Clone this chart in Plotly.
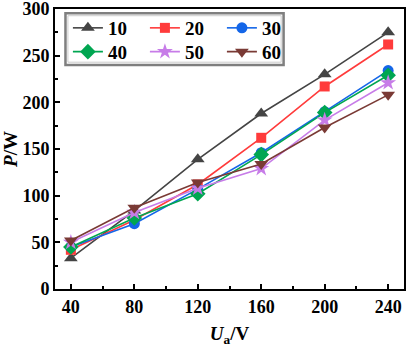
import plotly.graph_objects as go

ua = [40, 80, 120, 160, 200, 240]
names = ["10", "20", "30", "40", "50", "60"]
p10 = [33, 84, 139, 188, 230, 275]
p20 = [42, 74, 112, 162, 217, 262]
p30 = [45, 70, 107, 146, 190, 234]
p40 = [45, 76, 102, 144, 189, 229]
p50 = [50, 82, 108, 129, 181, 221]
p60 = [52, 87, 114, 134, 173, 208]
series = [p10, p20, p30, p40, p50, p60]
colors = ["#444444", "#ff3b3b", "#1466e8", "#00a651", "#c77ce8", "#7a3a35"]
symbols = ["triangle-up", "square", "circle", "diamond", "star", "triangle-down"]
sizes = [12, 10, 11, 12, 12, 12]

FONT = "Liberation Serif"
fig = go.Figure()
for i, (nm, ys) in enumerate(zip(names, series)):
    fig.add_trace(go.Scatter(
        x=ua, y=ys, name=nm, mode="lines+markers",
        line=dict(color=colors[i], width=1.6),
        marker=dict(symbol=symbols[i], size=sizes[i], color=colors[i]),
        legend="legend" if i < 3 else "legend2",
    ))

axis_common = dict(
    showline=True, linecolor="black", linewidth=2, mirror=True,
    ticks="inside", ticklen=5, tickwidth=1.5, tickcolor="black",
    showgrid=False, zeroline=False, ticklabeloverflow="allow", automargin=False,
    tickfont=dict(family=FONT, size=18, color="black", weight="bold"),
)
fig.update_xaxes(range=[30, 250], tickvals=[40, 80, 120, 160, 200, 240],
                 minor=dict(dtick=20, tick0=0, ticks="inside", ticklen=3, tickcolor="black"),
                 title=dict(text="<b><i>U</i><sub>a</sub>/V</b>",
                            font=dict(family=FONT, size=19, color="black"), standoff=19),
                 **axis_common)
fig.update_yaxes(range=[0, 300], tickvals=[0, 50, 100, 150, 200, 250, 300],
                 minor=dict(dtick=25, tick0=0, ticks="inside", ticklen=3, tickcolor="black"),
                 title=dict(text="<b><i>P</i>/W</b>",
                            font=dict(family=FONT, size=19, color="black"), standoff=6),
                 **axis_common)

leg = dict(orientation="h", xanchor="left", yanchor="top", bgcolor="rgba(0,0,0,0)",
           borderwidth=0, font=dict(family=FONT, size=19, color="black", weight="bold"),
           entrywidth=32, itemwidth=30, tracegroupgap=0)
fig.update_layout(
    width=408, height=347, margin=dict(l=55, r=4, t=9, b=58),
    paper_bgcolor="white", plot_bgcolor="white",
    legend=dict(x=0.037, y=1.0, **leg),
    legend2=dict(x=0.037, y=0.915, **leg),
    shapes=[
        dict(type="rect", xref="paper", yref="paper", x0=0.03, x1=0.655, y0=0.80, y1=0.985,
             line=dict(color="#7f7f7f", width=2.5), fillcolor="white", layer="below"),
        dict(type="rect", xref="paper", yref="paper", x0=0.037, x1=0.648, y0=0.81, y1=0.976,
             line=dict(color="#cccccc", width=1), layer="below"),
    ],
)
fig.write_html("out.html", config={"displayModeBar": False},
               post_script="document.body.style.margin='0';")
